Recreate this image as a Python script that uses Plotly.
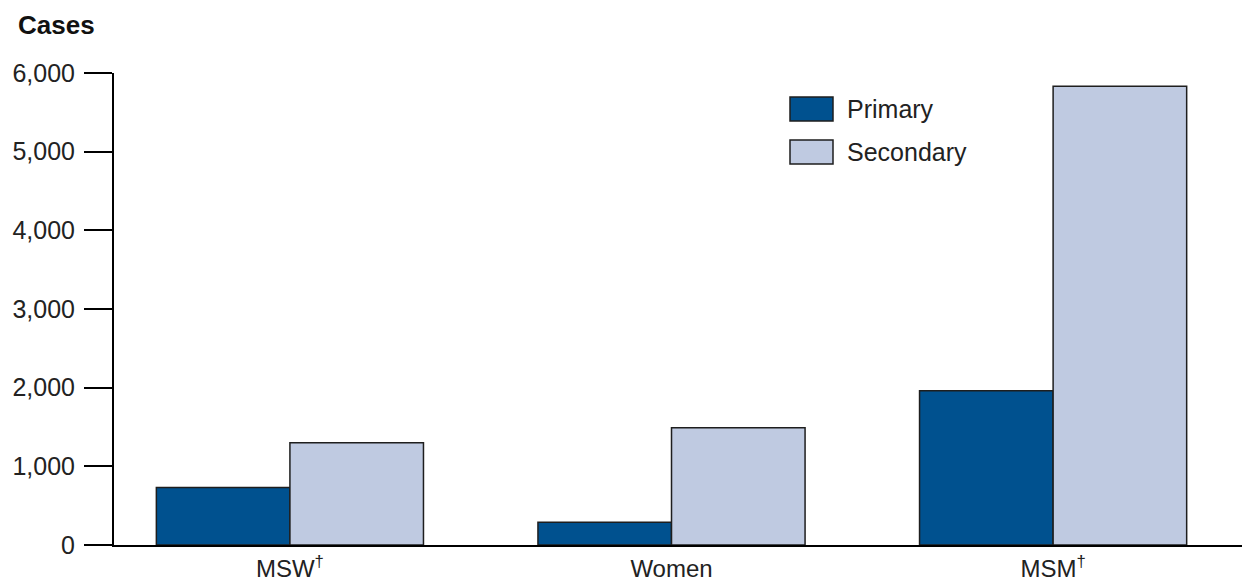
import plotly.graph_objects as go

categories = ["MSW<sup>†</sup>", "Women", "MSM<sup>†</sup>"]
primary = [730, 290, 1960]
secondary = [1300, 1490, 5830]
series_names = ["Primary", "Secondary"]
y_ticks = [0, 1000, 2000, 3000, 4000, 5000, 6000]
y_ticklabels = ["0", "1,000", "2,000", "3,000", "4,000", "5,000", "6,000"]

c_primary = "#00518f"
c_secondary = "#bfcae1"
edge = "#1e1e1e"
font_family = "Liberation Sans, Arial, sans-serif"

fig = go.Figure()
fig.add_trace(go.Bar(x=list(range(len(categories))), y=primary, name=series_names[0],
                     marker=dict(color=c_primary, line=dict(color=edge, width=1.5))))
fig.add_trace(go.Bar(x=list(range(len(categories))), y=secondary, name=series_names[1],
                     marker=dict(color=c_secondary, line=dict(color=edge, width=1.5))))

W, H = 1242, 582
L, R, T, B = 114, 0, 73, 37

fig.update_layout(
    width=W, height=H,
    margin=dict(l=L, r=R, t=T, b=B),
    plot_bgcolor="white", paper_bgcolor="white",
    barmode="group", bargap=0.3, bargroupgap=0,
    showlegend=False,
    font=dict(family=font_family, size=25, color="#222"),
    xaxis=dict(
        range=[-0.461, 2.495],
        tickmode="array", tickvals=list(range(len(categories))), ticktext=categories,
        showline=True, linecolor="black", linewidth=2,
        ticks="outside", ticklen=1, tickcolor="rgba(0,0,0,0)",
        showgrid=False, zeroline=False, automargin=False,
        tickfont=dict(size=24, color="#222"),
    ),
    yaxis=dict(
        range=[0, 6000],
        tickmode="array", tickvals=y_ticks, ticktext=y_ticklabels,
        showline=True, linecolor="black", linewidth=2,
        ticks="outside", ticklen=28, tickwidth=2, tickcolor="black",
        showgrid=False, zeroline=False, automargin=False,
        tickfont=dict(size=25, color="#222"),
        ticklabelstandoff=4,
    ),
)

def px_x(px):
    return (px - L) / (W - L - R)

def px_y(py):
    return (H - B - py) / (H - T - B)

# Title "Cases"
fig.add_annotation(text="<b>Cases</b>", xref="paper", yref="paper",
                   x=px_x(16), y=px_y(25),
                   xanchor="left", yanchor="middle", showarrow=False,
                   font=dict(size=26, color="#111", family=font_family))

# Legend (manual)
for (name, col, y0, y1) in [(series_names[0], c_primary, 97, 121), (series_names[1], c_secondary, 140, 164)]:
    fig.add_shape(type="rect", xref="paper", yref="paper",
                  x0=px_x(790), x1=px_x(833), y0=px_y(y1), y1=px_y(y0),
                  fillcolor=col, line=dict(color=edge, width=1.5))
    fig.add_annotation(text=name, xref="paper", yref="paper",
                       x=px_x(845), y=px_y((y0 + y1) / 2),
                       xanchor="left", yanchor="middle", showarrow=False,
                       font=dict(size=25, color="#222", family=font_family))

fig.write_html("out.html", config={"displayModeBar": False},
               post_script="document.body.style.margin='0px';")
